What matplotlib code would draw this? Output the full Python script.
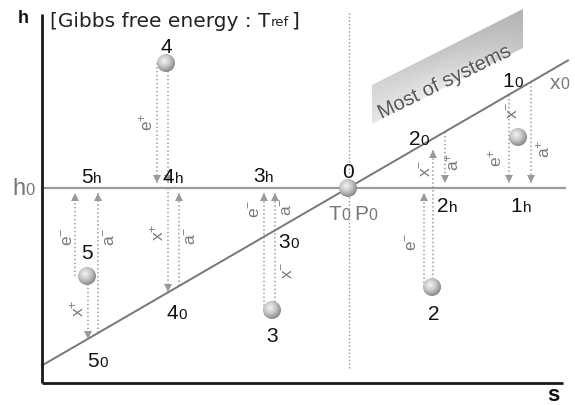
import numpy as np
import matplotlib
matplotlib.use("Agg")
import matplotlib.pyplot as plt
import matplotlib.patheffects as pe
from matplotlib.colors import LinearSegmentedColormap
from matplotlib.patches import Circle, Polygon

plt.rcParams["font.family"] = ["Liberation Sans", "DejaVu Sans"]

# reference state (T0, P0) and the equilibrium line through it
s_zero, h_zero = 306, 195
slope = 0.58
s_end = 526

# systems 1..5 in the (s, h) plane
sys_names = ["1", "2", "3", "4", "5"]
sys_s = [476, 390, 230, 124, 45]
sys_h = [246, 96, 73, 320, 107]

# exchanges: (s, from, to, gap); "h" = h0 level, "d" = equilibrium line
transfers = [
    (33, "5", "h", 0), (56, "d", "h", 0), (46, "5", "d", 0),
    (115, "4", "h", 0), (126, "4", "h", 0), (126, "h", "d", 0), (137, "d", "h", 0),
    (222, "3", "h", 0), (233, "3", "h", 0),
    (382, "2", "h", 0), (391, "2", "d", 11), (403, "d", "h", 0),
    (467, "d", "h", 0), (489, "d", "h", 0),
]

# exchange labels: (symbol, sign, s, h)
transfer_labels = [
    ("e", "-", 26, 146), ("a", "-", 68, 146), ("x", "+", 35, 75),
    ("e", "+", 104, 261), ("x", "+", 115, 151), ("a", "-", 149, 147),
    ("e", "-", 213, 174), ("a", "-", 245, 176), ("x", "-", 246, 113),
    ("e", "-", 370, 141), ("x", "-", 384, 215), ("a", "+", 410, 221),
    ("x", "-", 471, 273), ("e", "+", 453, 225), ("a", "+", 501, 234),
]

# "Most of systems" band
band_s = [330, 481]
band_lo = [259, 335]
band_hi = [298, 374]

GRAY = "#9a9a9a"
DARK = "#111111"
SOFT = "#777777"


def diag(s):
    return h_zero + slope * (np.asarray(s) - s_zero)


fig = plt.figure(figsize=(5.75, 4.05), dpi=100)
ax = fig.add_axes([0, 0, 1, 1])
ax.axis("off")

# shaded band, lighter along its lower middle
gs, gh = np.meshgrid(np.linspace(band_s[0], band_s[1], 200),
                     np.linspace(band_lo[0], band_hi[1], 200))
t = (gs - band_s[0]) / (band_s[1] - band_s[0])
lo = band_lo[0] + t * (band_lo[1] - band_lo[0])
u = np.clip((gh - lo) / (band_hi[0] - band_lo[0]), 0, 1)
shade = 0.9 + 0.07 * np.sin(np.pi * t) * (1 - u) - 0.13 * t - 0.07 * u
band = Polygon([(band_s[0], band_lo[0]), (band_s[1], band_lo[1]),
                (band_s[1], band_hi[1]), (band_s[0], band_hi[0])],
               transform=ax.transData, facecolor="none", edgecolor="none")
ax.add_patch(band)
im = ax.imshow(shade, cmap="gray", vmin=0, vmax=1, origin="lower",
               extent=(band_s[0], band_s[1], band_lo[0], band_hi[1]),
               interpolation="bilinear", zorder=1)
im.set_clip_path(band)
ax.text(405, 296, "Most of systems", rotation=26, rotation_mode="anchor",
        ha="center", va="baseline", fontsize=14.5, color="#555555", zorder=2,
        path_effects=[pe.withSimplePatchShadow(offset=(0.8, -0.8),
                                               shadow_rgbFace="white", alpha=1)])

# axes, h0 level, equilibrium line, T0 marker line
ax.plot([0, 0], [0, 369], color="#1a1a1a", lw=2, solid_capstyle="butt", zorder=4)
ax.plot([0, 521], [0, 0], color="#1a1a1a", lw=2, solid_capstyle="butt", zorder=4)
ax.plot([0, 523], [h_zero, h_zero], color=GRAY, lw=1.6, zorder=3)
ss = np.array([0, s_end])
ax.plot(ss, diag(ss), color="#777777", lw=1.4, zorder=3)
ax.plot([s_zero + 1, s_zero + 1], [15, 371], color=GRAY, lw=1,
        ls=(0, (1, 1.6)), zorder=2)

# exchange arrows
sys_level = dict(zip(sys_names, sys_h))
head = 6
half = head * 100 / 72 / 2


def level(key, s):
    if key == "h":
        return h_zero
    if key == "d":
        return float(diag(s))
    return sys_level[key]


for s, a, b, gap in transfers:
    start, end = level(a, s), level(b, s)
    d = 1 if end > start else -1
    tip = end - 5 * d if b == "h" else end - gap * d
    ax.plot([s, s], [start, tip], color=GRAY, lw=1.1, ls=(0, (1, 1.6)), zorder=2)
    ax.plot(s, tip - half * d, marker="^" if d > 0 else "v", ms=head,
            color=GRAY, mew=0, zorder=3)

for sym, sign, s, h in transfer_labels:
    ax.text(s, h, rf"$\mathregular{{{sym}^{{{sign}}}}}$", rotation=90,
            ha="center", va="center", fontsize=12.5, color="#7a7a7a", zorder=5)

# balls
ball_cmap = LinearSegmentedColormap.from_list("ball", ["#f4f4f4", "#c8c8c8", "#858585"])


def draw_ball(s, h, r=9):
    yy, xx = np.mgrid[-1:1:80j, -1:1:80j]
    d = np.hypot(xx + 0.2, yy - 0.25) / 1.3
    img = ax.imshow(d, cmap=ball_cmap, vmin=0, vmax=1, origin="lower",
                    extent=(s - r, s + r, h - r, h + r),
                    interpolation="bilinear", zorder=6)
    clip = Circle((s, h), r, transform=ax.transData)
    img.set_clip_path(clip)


draw_ball(s_zero, h_zero)
for s, h in zip(sys_s, sys_h):
    draw_ball(s, h)


def sub_label(s, h, main, sub, color=DARK, size=15, sub_size=11):
    ax.text(s, h, main, ha="right", va="baseline", fontsize=size, color=color, zorder=7)
    ax.text(s + 0.5, h, sub, ha="left", va="baseline", fontsize=sub_size,
            color=color, zorder=7)


# labels on the h0 level and on the equilibrium line
h_label_at = {"5": (51, 200), "4": (132, 200), "3": (223, 201),
              "2": (406, 171), "1": (480, 171)}
d_label_at = {"5": (57, 16), "4": (136, 64), "3": (248, 135),
              "2": (378, 238), "1": (472, 296)}
num_label_at = {"2": (392, 63), "3": (230, 41), "4": (124, 330), "5": (45, 124)}
for name in sys_names:
    sub_label(*h_label_at[name], name, "h")
    sub_label(*d_label_at[name], name, "0")
    if name in num_label_at:
        ax.text(*num_label_at[name], name, ha="center", va="baseline",
                fontsize=15, color=DARK, zorder=7)

ax.text(s_zero, 205, "0", ha="center", va="baseline", fontsize=15, color=DARK)
sub_label(299, 163, "T", "0", color=SOFT, size=15, sub_size=11.5)
sub_label(326, 163, "P", "0", color=SOFT, size=15, sub_size=11.5)
sub_label(518, 294, "x", "0", color=SOFT, size=15, sub_size=11.5)
sub_label(-17, 188, "h", "0", color=SOFT, size=17, sub_size=12)

# axis letters and title
ax.text(-19, 360, "h", ha="center", va="baseline", fontsize=13, weight="bold", color=DARK)
ax.text(511, -18, "s", ha="center", va="baseline", fontsize=16, weight="bold", color=DARK)
title = ax.text(8, 356, "[Gibbs free energy : T", ha="left", va="baseline",
                fontsize=14.5, family="DejaVu Sans", color="#222222")
ref = ax.annotate("ref", xy=(1, 0), xycoords=title, xytext=(0.5, 3.4),
                  textcoords="offset points", ha="left", va="baseline",
                  fontsize=9.5, family="DejaVu Sans", color="#222222")
ax.annotate("]", xy=(1, 0), xycoords=ref, xytext=(1, 2.2),
            textcoords="offset points", ha="left", va="baseline",
            fontsize=14.5, family="DejaVu Sans", color="#222222")

ax.set_aspect("auto")
ax.set_xlim(-42, 533)
ax.set_ylim(-22, 383)

fig.savefig("out.png", dpi=100)
